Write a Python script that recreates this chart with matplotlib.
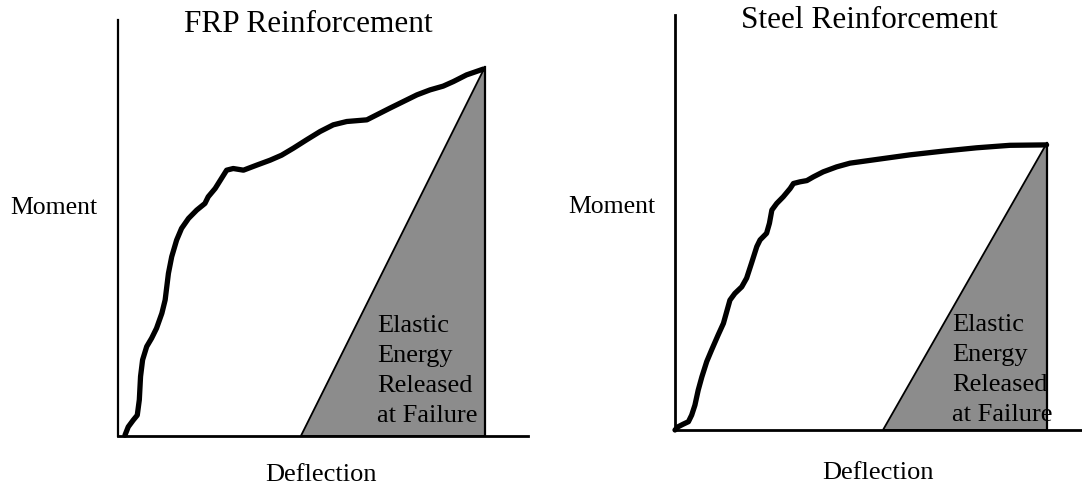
import matplotlib
matplotlib.use("Agg")
import matplotlib.pyplot as plt

W, H = 1082, 495
plt.rcParams['font.family'] = ['Liberation Serif', 'DejaVu Serif']

# Data (arbitrary units: deflection 0-100, moment 0-100)
frp_defl = [1.7, 2.5, 3.7, 4.7, 5.2, 5.5, 6.0, 7.0, 8.2, 9.4, 10.7, 11.5, 11.9, 12.3,
            13.1, 14.3, 15.5, 17.2, 19.2, 21.2, 22.0, 23.7, 26.5, 28.1, 30.6, 33.8,
            37.1, 39.9, 42.8, 46.0, 49.3, 52.5, 55.8, 60.7, 63.1, 66.3, 69.6, 72.9,
            76.1, 79.3, 81.8, 85.0, 89.1]
frp_mom = [0.2, 2.2, 3.8, 5.0, 8.7, 14.3, 18.3, 21.5, 23.5, 25.9, 29.5, 32.7, 35.9, 39.1,
           43.1, 47.1, 49.9, 52.3, 54.3, 55.9, 57.5, 59.5, 63.9, 64.3, 63.9, 65.1,
           66.3, 67.5, 69.2, 71.2, 73.2, 74.8, 75.6, 76.0, 77.2, 78.8, 80.4, 82.0,
           83.2, 84.1, 85.2, 86.8, 88.2]
frp_release_start = 44.6
frp_failure = (89.5, 88.7)

steel_defl = [0.0, 0.8, 2.0, 3.3, 4.1, 4.9, 5.7, 6.6, 7.8, 9.0, 10.6, 11.9, 12.7, 13.5,
              14.7, 16.4, 17.6, 18.8, 20.1, 20.9, 22.5, 23.2, 23.8, 25.0, 26.6, 28.3,
              29.1, 30.7, 32.4, 34.0, 36.4, 39.7, 43.0, 49.6, 57.7, 65.9, 74.1, 82.3, 91.3]
steel_mom = [0.0, 0.8, 1.4, 2.0, 3.6, 6.0, 9.6, 12.8, 16.5, 19.3, 22.9, 25.7, 28.5, 31.3,
             32.9, 34.5, 36.6, 40.2, 44.2, 45.8, 47.4, 49.8, 53.0, 54.6, 56.2, 58.2,
             59.4, 59.8, 60.1, 61.0, 62.2, 63.4, 64.3, 65.2, 66.3, 67.2, 68.0, 68.6, 68.7]
steel_release_start = 51.1
steel_failure = (91.4, 69.2)

titles = ["FRP Reinforcement", "Steel Reinforcement"]
xlabel = "Deflection"
ylabel = "Moment"
note = "Elastic\nEnergy\nReleased\nat Failure"

fig = plt.figure(figsize=(W / 100, H / 100), dpi=100)


def px_rect(x0, x1, ytop, ybot):
    return [x0 / W, 1 - ybot / H, (x1 - x0) / W, (ybot - ytop) / H]


panels = [
    dict(rect=px_rect(118, 528, 20, 436), defl=frp_defl, mom=frp_mom,
         start=frp_release_start, fail=frp_failure, spine=1.6),
    dict(rect=px_rect(675, 1082, 15, 430), defl=steel_defl, mom=steel_mom,
         start=steel_release_start, fail=steel_failure, spine=2.0),
]

for p in panels:
    ax = fig.add_axes(p['rect'])
    ax.set_xlim(0, 100)
    ax.set_ylim(0, 100)
    for s in ['top', 'right']:
        ax.spines[s].set_visible(False)
    ax.spines['left'].set_linewidth(p['spine'])
    ax.spines['bottom'].set_linewidth(2.0)
    ax.set_xticks([])
    ax.set_yticks([])
    fx, fy = p['fail']
    ax.fill([p['start'], fx, fx], [0, fy, 0], facecolor='#8c8c8c',
            edgecolor='black', linewidth=1.3, zorder=2)
    ax.plot([fx, fx], [0, fy], color='black', linewidth=1.6, zorder=3)
    ax.plot(p['defl'], p['mom'], color='black', linewidth=3.8,
            solid_capstyle='round', solid_joinstyle='round', zorder=4, clip_on=False)


def ftext(x, y, s, **kw):
    fig.text(x / W, 1 - y / H, s, **kw)


ftext(308, 25, titles[0], fontsize=22.5, ha='center', va='center')
ftext(869, 20, titles[1], fontsize=22.5, ha='center', va='center')
ftext(10, 208, ylabel, fontsize=18.5, ha='left', va='center')
ftext(568, 207, ylabel, fontsize=18.5, ha='left', va='center')
ftext(321, 475, xlabel, fontsize=19, ha='center', va='center')
ftext(878, 473, xlabel, fontsize=19, ha='center', va='center')
ftext(377, 371, note, fontsize=19, ha='left', va='center', linespacing=1.47)
ftext(952, 370, note, fontsize=19, ha='left', va='center', linespacing=1.47)

fig.savefig("out.png", dpi=100)
